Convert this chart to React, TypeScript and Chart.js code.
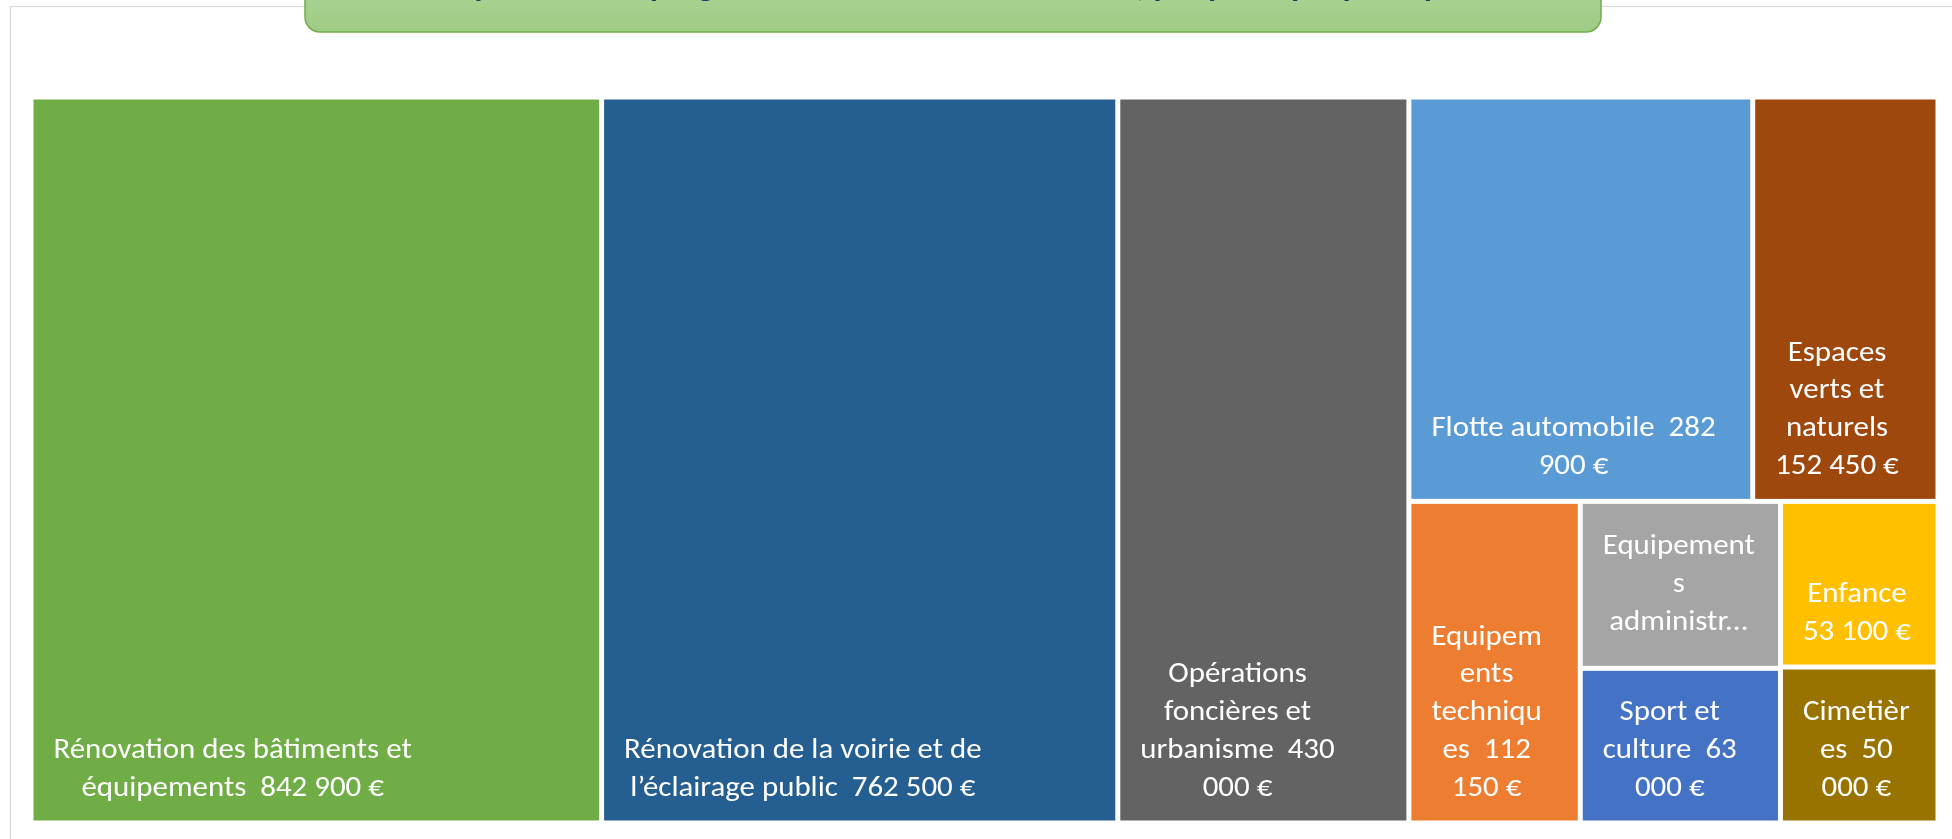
import React, { useEffect, useRef } from 'react';
import { Chart, registerables } from 'chart.js';

Chart.register(...registerables);

// ---------- data ----------
const categories = [
  'Rénovation des bâtiments et équipements',
  'Rénovation de la voirie et de l’éclairage public',
  'Opérations foncières et urbanisme',
  'Flotte automobile',
  'Espaces verts et naturels',
  'Equipements techniques',
  'Equipements administratifs',
  'Sport et culture',
  'Enfance',
  'Cimetières',
];
const values = [842900, 762500, 430000, 282900, 152450, 112150, 68000, 63000, 53100, 50000];
const colors = ['#70AD47', '#255E91', '#636363', '#5B9BD5', '#9E480E', '#ED7D31', '#A5A5A5', '#4472C4', '#FFC000', '#997300'];
// labels as wrapped by the original chart
const labelLines = [
  ['Rénovation des bâtiments et', 'équipements  842 900 €'],
  ['Rénovation de la voirie et de', 'l’éclairage public  762 500 €'],
  ['Opérations', 'foncières et', 'urbanisme  430', '000 €'],
  ['Flotte automobile  282', '900 €'],
  ['Espaces', 'verts et', 'naturels', '152 450 €'],
  ['Equipem', 'ents', 'techniqu', 'es  112', '150 €'],
  ['Equipement', 's', 'administr...'],
  ['Sport et', 'culture  63', '000 €'],
  ['Enfance', '53 100 €'],
  ['Cimetièr', 'es  50', '000 €'],
];
const titleText = 'Répartition du programme d’investissement 2024, par politique publique';

// ---------- layout (squarified treemap in a virtual space) ----------
const ASPECT = 3.4;
type Rect = { x0: number; y0: number; x1: number; y1: number };

function worst(row: number[], side: number): number {
  const s = row.reduce((a, b) => a + b, 0);
  const mx = Math.max(...row);
  const mn = Math.min(...row);
  return Math.max((side * side * mx) / (s * s), (s * s) / (side * side * mn));
}

function squarify(vals: number[], W: number, H: number): Rect[] {
  const total = vals.reduce((a, b) => a + b, 0);
  const areas = vals.map((v) => (v * W * H) / total);
  const out: Rect[] = [];
  let x = 0, y = 0, w = W, h = H;
  let i = 0;
  while (i < areas.length) {
    const side = Math.min(w, h);
    let row = [areas[i]];
    let j = i + 1;
    while (j < areas.length) {
      const next = [...row, areas[j]];
      if (worst(next, side) <= worst(row, side)) {
        row = next;
        j++;
      } else break;
    }
    const s = row.reduce((a, b) => a + b, 0);
    if (w >= h) {
      const cw = s / h;
      let cy = y;
      for (const a of row) {
        const rh = a / cw;
        out.push({ x0: x, y0: cy, x1: x + cw, y1: cy + rh });
        cy += rh;
      }
      x += cw;
      w -= cw;
    } else {
      const rh = s / w;
      let cx = x;
      for (const a of row) {
        const rw = a / rh;
        out.push({ x0: cx, y0: y, x1: cx + rw, y1: y + rh });
        cx += rw;
      }
      y += rh;
      h -= rh;
    }
    i = j;
  }
  return out;
}

const cells = squarify(values, ASPECT, 1);

// ---------- styling ----------
const GAP = 5;
const PAD = 20;
const FONT_FAMILY = 'Carlito, Lato, "Open Sans", sans-serif';
const FONT_SIZE = 28;
const LINE_H = 37.7;
const BOTTOM_OFF = 32;
const CALIBRI_REF_EM = 11.68; // em width of the reference string in the original font
const REF_STRING = 'Rénovation des bâtiments et';

const treemapPlugin = {
  id: 'treemapCells',
  beforeDraw(chart: any) {
    const ctx: CanvasRenderingContext2D = chart.ctx;
    ctx.save();
    ctx.fillStyle = '#ffffff';
    ctx.fillRect(0, 0, chart.width, chart.height);
    // chart frame
    ctx.strokeStyle = '#D9D9D9';
    ctx.lineWidth = 1.2;
    ctx.strokeRect(10.5, 6.5, 2000, 900);
    // title box
    const bx = 305, by = -45, bw = 1296, bh = 77;
    const grad = ctx.createLinearGradient(0, by, 0, by + bh);
    grad.addColorStop(0, '#B4D99C');
    grad.addColorStop(1, '#9ECB85');
    ctx.beginPath();
    (ctx as any).roundRect(bx, by, bw, bh, 15);
    ctx.fillStyle = grad;
    ctx.fill();
    ctx.lineWidth = 1.5;
    ctx.strokeStyle = '#70AD47';
    ctx.stroke();
    ctx.save();
    ctx.clip();
    ctx.fillStyle = '#203864';
    ctx.font = 'bold 34px ' + FONT_FAMILY;
    ctx.textAlign = 'center';
    ctx.textBaseline = 'alphabetic';
    ctx.fillText(titleText, bx + bw / 2, -4);
    ctx.restore();
    ctx.restore();
  },
  afterDatasetsDraw(chart: any) {
    const ctx: CanvasRenderingContext2D = chart.ctx;
    const xs = chart.scales.x;
    const ys = chart.scales.y;
    ctx.save();
    ctx.font = `${FONT_SIZE}px ${FONT_FAMILY}`;
    const refW = ctx.measureText(REF_STRING).width;
    const sx = (CALIBRI_REF_EM * 30.67) / refW;
    ctx.textAlign = 'center';
    ctx.textBaseline = 'middle';
    cells.forEach((r, i) => {
      const L = xs.getPixelForValue(r.x0) + GAP / 2;
      const R = xs.getPixelForValue(r.x1) - GAP / 2;
      const T = ys.getPixelForValue(r.y0) + GAP / 2;
      const B = ys.getPixelForValue(r.y1) - GAP / 2;
      ctx.fillStyle = colors[i];
      ctx.fillRect(L, T, R - L, B - T);

      const lines = labelLines[i];
      const widths = lines.map((l) => ctx.measureText(l).width * sx);
      const blockW = Math.min(Math.max(...widths), R - L - 2 * PAD);
      const cx = L + PAD + blockW / 2;
      const n = lines.length;
      const truncated = lines[n - 1].endsWith('...');
      const yFirst = truncated
        ? (T + B) / 2 - ((n - 1) * LINE_H) / 2
        : B - BOTTOM_OFF - (n - 1) * LINE_H;
      ctx.fillStyle = '#FFFFFF';
      lines.forEach((ln, k) => {
        ctx.save();
        ctx.translate(cx, yFirst + k * LINE_H);
        ctx.scale(sx, 1);
        ctx.fillText(ln, 0, 0);
        ctx.restore();
      });
    });
    ctx.restore();
  },
};

export default function App() {
  const ref = useRef<HTMLCanvasElement>(null);
  useEffect(() => {
    const canvas = ref.current;
    if (!canvas) return;
    const chart = new Chart(canvas, {
      type: 'scatter',
      data: {
        datasets: [
          {
            label: 'Budget',
            data: cells.map((c, i) => ({ x: (c.x0 + c.x1) / 2, y: (c.y0 + c.y1) / 2, v: values[i], name: categories[i] })) as any,
            pointRadius: 0,
            pointHoverRadius: 0,
          },
        ],
      },
      options: {
        animation: false,
        responsive: false,
        maintainAspectRatio: false,
        events: [],
        layout: { padding: { left: 31, top: 97, right: 14, bottom: 16 } },
        scales: {
          x: { type: 'linear', min: 0, max: ASPECT, display: false },
          y: { type: 'linear', min: 0, max: 1, reverse: true, display: false },
        },
        plugins: { legend: { display: false }, tooltip: { enabled: false }, title: { display: false } },
      },
      plugins: [treemapPlugin],
    });
    return () => chart.destroy();
  }, []);
  return (
    <div style={{ position: 'fixed', left: 0, top: 0, width: 1952, height: 839, background: '#fff' }}>
      <canvas ref={ref} width={1952} height={839} style={{ display: 'block', width: 1952, height: 839 }} />
    </div>
  );
}
